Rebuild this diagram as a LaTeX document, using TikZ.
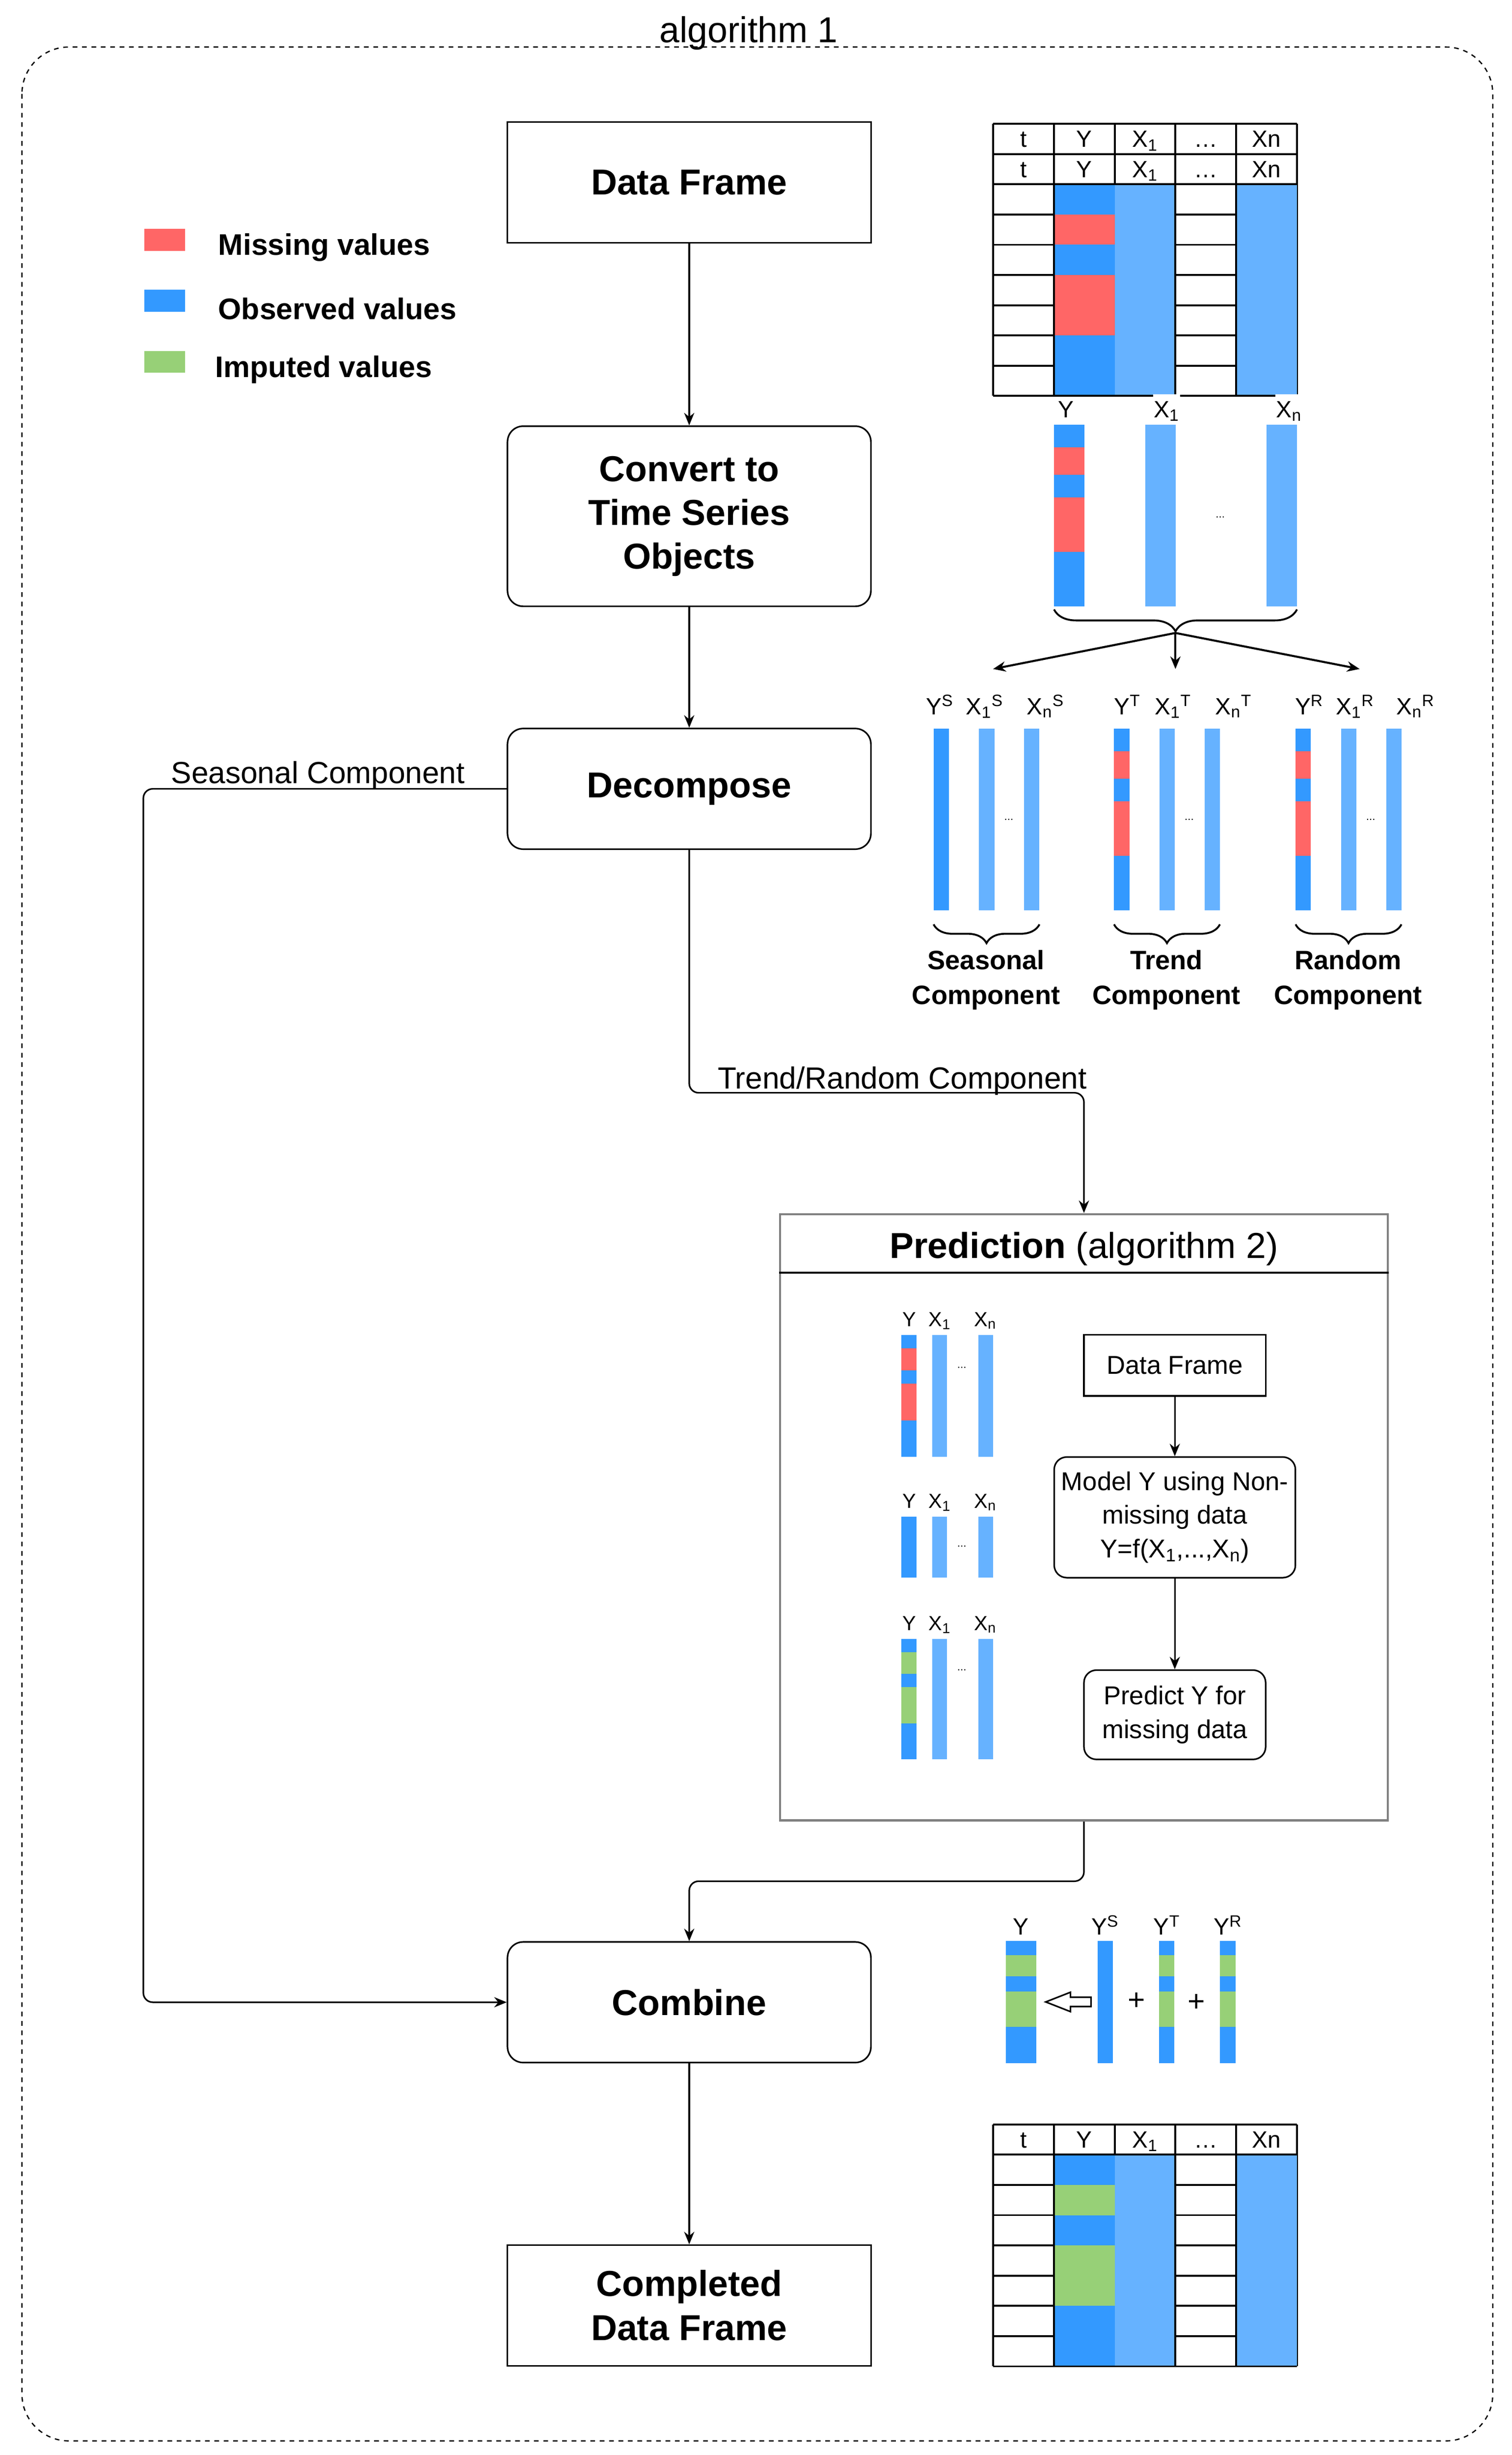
\documentclass[tikz,border=0pt]{standalone}
\usepackage{fontspec}
\setmainfont{Liberation Sans}
\usetikzlibrary{positioning, arrows.meta, decorations.pathreplacing}

\definecolor{missred}{HTML}{FF6666}
\definecolor{obsblue}{HTML}{3399FF}
\definecolor{lightblue}{HTML}{66B2FF}
\definecolor{impgreen}{HTML}{97D077}
\definecolor{lanegray}{HTML}{808080}

\tikzset{
  mainbox/.style={draw, rectangle, line width=1pt, minimum width=232pt, minimum height=77pt, align=center, font=\bfseries\fontsize{23}{28}\selectfont},
  roundbox/.style={mainbox, rounded corners=10pt},
  innerbox/.style={draw, rectangle, line width=1pt, align=center, inner sep=0pt, font=\fontsize{16.5}{21.5}\selectfont},
  flowarrow/.style={-{Stealth[length=8pt, width=6.5pt]}, line width=1pt},
  keybox/.style={rectangle, minimum width=26pt, minimum height=14pt, inner sep=0pt},
  legendtext/.style={inner sep=0pt, yshift=-5pt, font=\bfseries\fontsize{19}{23}\selectfont},
  edgelabel/.style={anchor=base, inner sep=0pt, font=\fontsize{19.5}{23}\selectfont},
  collabel/.style={anchor=base, inner sep=0.5pt, font=\fontsize{15}{18}\selectfont},
  smalllabel/.style={anchor=base, inner sep=0pt, font=\fontsize{13}{16}\selectfont},
  grouplabel/.style={align=center, inner sep=0pt, font=\bfseries\fontsize{17}{22}\selectfont},
  tinydots/.style={inner sep=0pt, font=\fontsize{7}{8}\selectfont},
  tabline/.style={line width=1.2pt},
  bracestyle/.style={decorate, decoration={brace, amplitude=#1}, line width=1.2pt},
  bracestyle/.default=12pt
}

\begin{document}
\begin{tikzpicture}[x=1pt, y=-1pt]
\useasboundingbox (0,0) rectangle (965,1567);
\draw[line width=0.8pt, dash pattern=on 3pt off 3pt, rounded corners=30pt] (14,30) rectangle (953,1558);
\node (title) [edgelabel, font=\fontsize{23}{28}\selectfont] at (478,27) {algorithm 1};

\node (misskey) [keybox, fill=missred] at (105,153) {};
\node (obskey) [keybox, fill=obsblue, below of=misskey, node distance=39pt] {};
\node (impkey) [keybox, fill=impgreen, below of=obskey, node distance=39pt] {};
\node (misstext) [legendtext, right=21pt of misskey] {Missing values};
\node (obstext) [legendtext, right=21pt of obskey] {Observed values};
\node (imptext) [legendtext, right=19pt of impkey] {Imputed values};

\node (dataframe) [mainbox] at (440,116.5) {Data Frame};
\node (convert) [roundbox, minimum height=115pt, below of=dataframe, node distance=213pt] {Convert to\\Time Series\\Objects};
\node (decompose) [roundbox, below of=convert, node distance=174pt] {Decompose};
\node (combine) [roundbox, below of=decompose, node distance=774.5pt] {Combine};
\node (completed) [mainbox, below of=combine, node distance=193.5pt] {Completed\\Data Frame};

\node (prediction) [draw=lanegray, line width=1.5pt, minimum width=388pt, minimum height=387pt, inner sep=0pt] at (692,968.5) {};
\draw[line width=1.2pt] ([yshift=-38pt]prediction.north west) -- ([yshift=-38pt]prediction.north east);
\node (predtitle) [edgelabel, font=\fontsize{23}{28}\selectfont] at (692,803) {\textbf{Prediction} (algorithm 2)};
\node (innerframe) [innerbox, minimum width=116pt, minimum height=39pt] at (750,871.5) {Data Frame};
\node (model) [innerbox, rounded corners=8pt, minimum width=154pt, minimum height=77pt, below of=innerframe, node distance=97pt] {Model Y using Non-\\missing data\\Y=f(X\textsubscript{1},...,X\textsubscript{n})};
\node (predict) [innerbox, rounded corners=8pt, minimum width=116pt, minimum height=57pt, below of=model, node distance=126pt] {Predict Y for\\missing data};
\draw[flowarrow] (innerframe) -- (model);
\draw[flowarrow] (model) -- (predict);

\draw[flowarrow] (dataframe) -- (convert);
\draw[flowarrow] (convert) -- (decompose);
\draw[flowarrow, rounded corners=6pt] (decompose.south) -- ++(0,155) -| (prediction.north);
\draw[flowarrow, rounded corners=6pt] (decompose.west) -- ++(-232,0) |- (combine.west);
\draw[flowarrow, rounded corners=6pt] (prediction.south) -- ++(0,38) -| (combine.north);
\draw[flowarrow] (combine) -- (completed);
\node (seasonlabel) [edgelabel] at (203,500) {Seasonal Component};
\node (trendlabel) [edgelabel] at (576,695) {Trend/Random Component};

\foreach \ty/\hr/\gc/\tn in {79/2/missred/top, 1356/1/impgreen/bottom} {
  \pgfmathsetmacro{\tb}{\ty+\hr*19.3}
  \pgfmathsetmacro{\te}{\tb+7*19.3}
  \foreach \r in {0,...,\hr} \draw[tabline] (634,{\ty+\r*19.3}) -- (828,{\ty+\r*19.3});
  \foreach \r in {1,...,7} \draw[tabline] (634,{\tb+\r*19.3}) -- (828,{\tb+\r*19.3});
  \foreach \c in {0,...,5} \draw[tabline] ({634+\c*38.8},\ty) -- ({634+\c*38.8},\te);
  \fill[obsblue] (672.8,\tb) rectangle (711.6,\te);
  \fill[\gc] (672.8,{\tb+19.3}) rectangle (711.6,{\tb+2*19.3});
  \fill[\gc] (672.8,{\tb+3*19.3}) rectangle (711.6,{\tb+5*19.3});
  \fill[lightblue] (711.6,\tb) rectangle (750.4,\te);
  \fill[lightblue] (789.2,\tb) rectangle (828,\te);
  \foreach \c in {0,1,3,4} \draw[tabline] ({634+\c*38.8},\tb) -- ({634+\c*38.8},\te);
  \draw[tabline] (634,\tb) -- (828,\tb);
  \draw[tabline] (634,\te) -- (828,\te);
  \foreach \h in {1,...,\hr}
    \foreach \lbl [count=\c] in {t, Y, X\textsubscript{1}, \dots, Xn}
      \node (\tn-head-\h-\c) [collabel] at ({634+(\c-0.5)*38.8},{\ty+\h*19.3-4.3}) {\lbl};
}

\node (ylabel) [collabel] at (680.5,266.5) {Y};
\node (x1label) [collabel, fill=white, inner ysep=4.5pt] at (744.7,266.5) {X\textsubscript{1}};
\node (xnlabel) [collabel, fill=white, inner ysep=4.5pt] at (822.9,266.5) {X\textsubscript{n}};
\fill[obsblue] (672.9,271) rectangle (692.3,387);
\fill[missred] (672.9,285.6) rectangle (692.3,303.1);
\fill[missred] (672.9,317.6) rectangle (692.3,352.3);
\fill[lightblue] (731.1,271) rectangle (750.5,387);
\fill[lightblue] (808.6,271) rectangle (828,387);
\node (topdots) [tinydots] at (779,330) {...};
\draw[bracestyle=14pt] (828,389) -- (672.9,389);
\coordinate (split) at (750.4,404);
\coordinate (seasonalend) at (634,427);
\coordinate (trendend) at (750.4,427);
\coordinate (randomend) at (868,427);
\draw[flowarrow, line width=1.3pt] (split) -- (seasonalend);
\draw[flowarrow, line width=1.3pt] (split) -- (trendend);
\draw[flowarrow, line width=1.3pt] (split) -- (randomend);

\foreach \gx/\lt/\gc/\gname/\ly/\lx/\ln [count=\g] in {596/S/obsblue/Seasonal/600/628.6/667.5, 711.2/T/missred/Trend/719.7/748.9/787.5, 827.1/R/missred/Random/835.8/865/903.7} {
  \fill[obsblue] (\gx,465) rectangle ({\gx+9.8},581);
  \fill[\gc] (\gx,479.6) rectangle ({\gx+9.8},497.1);
  \fill[\gc] (\gx,511.6) rectangle ({\gx+9.8},546.1);
  \fill[lightblue] ({\gx+29},465) rectangle ({\gx+38.8},581);
  \fill[lightblue] ({\gx+57.8},465) rectangle ({\gx+67.6},581);
  \node (comp-y-\g) [collabel] at (\ly,456) {Y\textsuperscript{\lt}};
  \node (comp-x1-\g) [collabel] at (\lx,456) {X\textsubscript{1}\textsuperscript{\lt}};
  \node (comp-xn-\g) [collabel] at (\ln,456) {X\textsubscript{n}\textsuperscript{\lt}};
  \node (comp-dots-\g) [tinydots] at ({\gx+48},523) {...};
  \draw[bracestyle=12pt] ({\gx+67.6},590) -- (\gx,590);
  \node (comp-name-\g) [grouplabel] at ({\gx+33.5},625.5) {\gname\\Component};
}

\foreach \gy/\gb/\dy/\gc [count=\g] in {852/930/873/missred, 968/1007/987/obsblue, 1046/1123/1066/impgreen} {
  \fill[obsblue] (575.5,\gy) rectangle (585,\gb);
  \fill[\gc] (575.5,{\gy+0.11*(\gb-\gy)}) rectangle (585,{\gy+0.29*(\gb-\gy)});
  \fill[\gc] (575.5,{\gy+0.40*(\gb-\gy)}) rectangle (585,{\gy+0.70*(\gb-\gy)});
  \fill[lightblue] (595,\gy) rectangle (604.5,\gb);
  \fill[lightblue] (624.5,\gy) rectangle (634,\gb);
  \node (pred-y-\g) [smalllabel] at (580.5,{\gy-5.5}) {Y};
  \node (pred-x1-\g) [smalllabel] at (600,{\gy-5.5}) {X\textsubscript{1}};
  \node (pred-xn-\g) [smalllabel] at (629,{\gy-5.5}) {X\textsubscript{n}};
  \node (pred-dots-\g) [tinydots] at (614,\dy) {...};
}

\foreach \bx/\bw/\gc in {642/19.6/impgreen, 700.7/9.7/obsblue, 739.8/10/impgreen, 778.8/10/impgreen} {
  \fill[obsblue] (\bx,1239) rectangle ({\bx+\bw},1317);
  \fill[\gc] (\bx,1247.8) rectangle ({\bx+\bw},1261.4);
  \fill[\gc] (\bx,1271.2) rectangle ({\bx+\bw},1293.6);
}
\node (comb-y) [collabel] at (651.8,1235) {Y};
\node (comb-ys) [collabel] at (705.5,1235) {Y\textsuperscript{S}};
\node (comb-yt) [collabel] at (744.9,1235) {Y\textsuperscript{T}};
\node (comb-yr) [collabel] at (783.9,1235) {Y\textsuperscript{R}};
\draw[line width=1pt, fill=white] (667.6,1277.8) -- (683.4,1271.6) -- (683.4,1274.8) -- (696.5,1274.8) -- (696.5,1280.8) -- (683.4,1280.8) -- (683.4,1284) -- cycle;
\node (plusone) [inner sep=0pt, font=\fontsize{19}{20}\selectfont] at (725.7,1277.3) {+};
\node (plustwo) [inner sep=0pt, font=\fontsize{19}{20}\selectfont] at (763.9,1278.4) {+};
\end{tikzpicture}
\end{document}
